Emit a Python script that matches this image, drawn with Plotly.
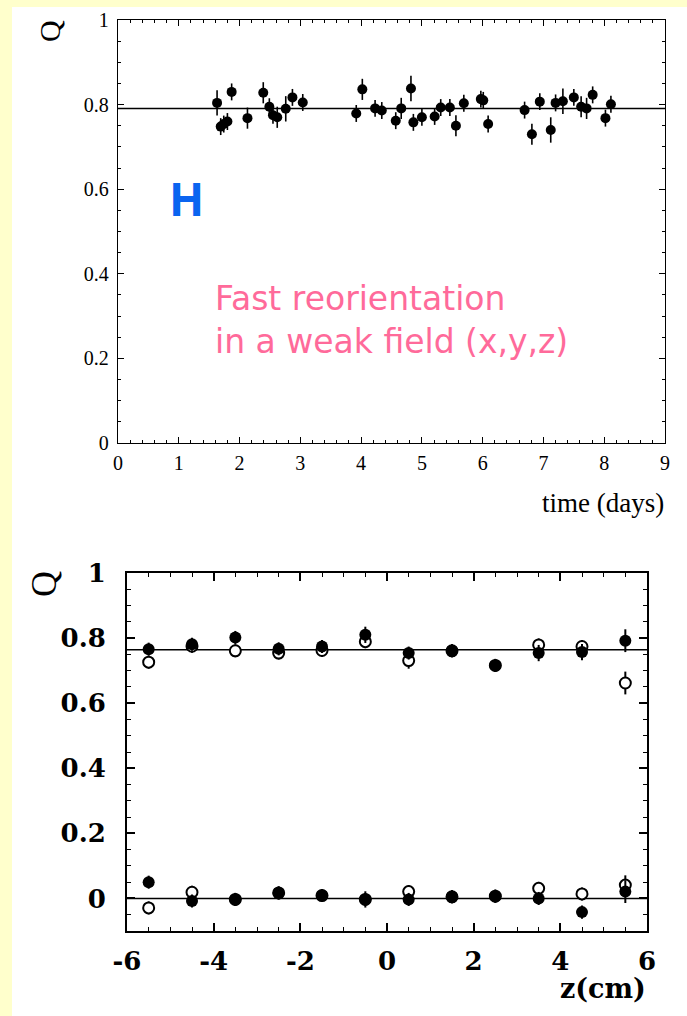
import plotly.graph_objects as go

W, H = 687, 1016

# ---------------- data: top panel (Q vs time) ----------------
days = [1.63, 1.69, 1.74, 1.80, 1.87, 2.13, 2.39, 2.49, 2.55, 2.62, 2.76, 2.87, 3.04,
        3.92, 4.02, 4.23, 4.34, 4.57, 4.66, 4.82, 4.86, 5.00, 5.21, 5.31, 5.46, 5.56,
        5.69, 5.97, 6.01, 6.09, 6.69, 6.81, 6.94, 7.12, 7.20, 7.32, 7.50, 7.62, 7.71,
        7.81, 8.02, 8.11]
q_time = [0.804, 0.748, 0.754, 0.760, 0.830, 0.768, 0.828, 0.795, 0.775, 0.770, 0.790,
          0.817, 0.805, 0.779, 0.836, 0.791, 0.786, 0.762, 0.791, 0.838, 0.758, 0.770,
          0.772, 0.793, 0.793, 0.750, 0.803, 0.813, 0.810, 0.754, 0.787, 0.730, 0.807,
          0.740, 0.804, 0.808, 0.817, 0.795, 0.791, 0.823, 0.768, 0.801]
q_time_err = [0.030, 0.020, 0.020, 0.020, 0.020, 0.025, 0.025, 0.020, 0.020, 0.025,
              0.030, 0.020, 0.020, 0.020, 0.025, 0.020, 0.020, 0.020, 0.025, 0.030,
              0.020, 0.020, 0.020, 0.020, 0.020, 0.025, 0.020, 0.020, 0.020, 0.020,
              0.020, 0.025, 0.020, 0.030, 0.020, 0.030, 0.020, 0.025, 0.025, 0.020,
              0.020, 0.020]
fit_time = 0.791
time_range = [0, 9]

# ---------------- data: bottom panel (Q vs z) ----------------
z_pos = [-5.5, -4.5, -3.5, -2.5, -1.5, -0.5, 0.5, 1.5, 2.5, 3.5, 4.5, 5.5]
filled_upper = [0.766, 0.781, 0.802, 0.767, 0.774, 0.810, 0.754, 0.761, 0.716, 0.754, 0.757, 0.792]
open_upper = [0.726, 0.775, 0.761, 0.754, 0.762, 0.789, 0.731, 0.761, 0.716, 0.779, 0.774, 0.662]
filled_lower = [0.050, -0.008, -0.003, 0.017, 0.009, -0.003, -0.003, 0.005, 0.007, 0.000, -0.042, 0.021]
open_lower = [-0.029, 0.019, -0.003, 0.017, 0.009, -0.003, 0.021, 0.005, 0.007, 0.031, 0.014, 0.041]
err_filled_upper = [0.02, 0.02, 0.02, 0.02, 0.02, 0.025, 0.02, 0.02, 0.02, 0.025, 0.025, 0.035]
err_open_upper = [0.02, 0.02, 0.02, 0.02, 0.02, 0.02, 0.025, 0.02, 0.02, 0.02, 0.02, 0.035]
err_filled_lower = [0.02, 0.02, 0.02, 0.02, 0.02, 0.025, 0.02, 0.02, 0.02, 0.02, 0.02, 0.035]
err_open_lower = [0.02, 0.02, 0.02, 0.02, 0.02, 0.02, 0.02, 0.02, 0.02, 0.02, 0.02, 0.03]
fit_upper = 0.764
fit_lower = 0.0
z_range = [-6, 6]
z_ticks = [-6, -4, -2, 0, 2, 4, 6]
z_tick_labels = ["-6", "-4", "-2", "0", "2", "4", "6"]


def px(x):
    return x / W


def py(y):
    return 1 - y / H


fig = go.Figure()

# top panel
fig.add_trace(go.Scatter(x=time_range, y=[fit_time, fit_time], mode="lines",
                         line=dict(color="black", width=1.5), xaxis="x", yaxis="y",
                         showlegend=False, hoverinfo="skip"))
fig.add_trace(go.Scatter(x=days, y=q_time, mode="markers", xaxis="x", yaxis="y",
                         marker=dict(color="black", size=10),
                         error_y=dict(type="data", array=q_time_err, width=0,
                                      thickness=1.6, color="black"),
                         showlegend=False))

# bottom panel
for fv in (fit_upper, fit_lower):
    fig.add_trace(go.Scatter(x=z_range, y=[fv, fv], mode="lines",
                             line=dict(color="black", width=1.5), xaxis="x2", yaxis="y2",
                             showlegend=False, hoverinfo="skip"))
for vals, errs in ((open_upper, err_open_upper), (open_lower, err_open_lower)):
    fig.add_trace(go.Scatter(x=z_pos, y=vals, mode="markers", xaxis="x2", yaxis="y2",
                             marker=dict(color="white", size=11,
                                         line=dict(color="black", width=2)),
                             error_y=dict(type="data", array=errs, width=0,
                                          thickness=2, color="black"),
                             showlegend=False))
for vals, errs in ((filled_upper, err_filled_upper), (filled_lower, err_filled_lower)):
    fig.add_trace(go.Scatter(x=z_pos, y=vals, mode="markers", xaxis="x2", yaxis="y2",
                             marker=dict(color="black", size=12),
                             error_y=dict(type="data", array=errs, width=0,
                                          thickness=2, color="black"),
                             showlegend=False))

top_font = dict(family="Liberation Serif", size=20, color="black")
bot_font = dict(family="DejaVu Serif", size=26, color="black", weight="bold")

common = dict(showgrid=False, zeroline=False, showline=True, linecolor="black",
              mirror="allticks", ticks="inside", tickcolor="black", automargin=False)

fig.update_layout(
    width=W, height=H,
    margin=dict(l=0, r=0, t=0, b=0, autoexpand=False),
    paper_bgcolor="#FFFFCC",
    plot_bgcolor="white",
    xaxis=dict(domain=[px(118), px(665)], range=time_range, anchor="y",
               dtick=1, tick0=0, ticklen=6, linewidth=1.3, tickwidth=1.3,
               tickfont=top_font, ticklabelstandoff=2,
               minor=dict(dtick=0.2, tick0=0, ticklen=3, ticks="inside",
                          tickcolor="black", tickwidth=1.2),
               **common),
    yaxis=dict(domain=[py(443), py(20)], range=[0, 1], anchor="x",
               dtick=0.2, tick0=0, ticklen=6, linewidth=1.3, tickwidth=1.3,
               tickfont=top_font, tickformat="~g", ticklabelstandoff=4,
               minor=dict(dtick=0.05, tick0=0, ticklen=3, ticks="inside",
                          tickcolor="black", tickwidth=1.2),
               **common),
    xaxis2=dict(domain=[px(127), px(647)], range=z_range, anchor="y2",
                tickmode="array", tickvals=z_ticks, ticktext=z_tick_labels,
                ticklen=8, linewidth=2, tickwidth=1.6,
                tickfont=bot_font, ticklabelstandoff=6,
                minor=dict(dtick=0.5, tick0=0, ticklen=4, ticks="inside",
                           tickcolor="black", tickwidth=1.4),
                **common),
    yaxis2=dict(domain=[py(931), py(573)], range=[-0.1, 1.0], anchor="x2",
                dtick=0.2, tick0=0, ticklen=8, linewidth=2, tickwidth=1.6,
                tickfont=bot_font, tickformat="~g", ticklabelstandoff=14,
                minor=dict(dtick=0.05, tick0=0, ticklen=4, ticks="inside",
                           tickcolor="black", tickwidth=1.4),
                **common),
    shapes=[dict(type="rect", xref="paper", yref="paper", x0=px(12), x1=1,
                 y0=0, y1=py(7), fillcolor="white", line=dict(width=0),
                 layer="below")],
    annotations=[
        dict(text="Q", xref="paper", yref="paper", x=px(50), y=py(31),
             showarrow=False, textangle=-90, xanchor="center", yanchor="middle",
             font=dict(family="Liberation Serif", size=30, color="black")),
        dict(text="Q", xref="paper", yref="paper", x=px(44), y=py(584),
             showarrow=False, textangle=-90, xanchor="center", yanchor="middle",
             font=dict(family="Liberation Serif", size=36, color="black")),
        dict(text="time (days)", xref="paper", yref="paper", x=px(666), y=py(503),
             showarrow=False, xanchor="right", yanchor="middle",
             font=dict(family="Liberation Serif", size=27, color="black")),
        dict(text="z(cm)", xref="paper", yref="paper", x=px(648), y=py(988),
             showarrow=False, xanchor="right", yanchor="middle",
             font=dict(family="DejaVu Serif", size=27, color="black", weight="bold")),
        dict(text="H", xref="paper", yref="paper", x=px(186), y=py(198),
             showarrow=False, xanchor="center", yanchor="middle",
             font=dict(family="Noto Sans", size=46, color="#0A64F0", weight="bold")),
        dict(text="Fast reorientation<br>in a weak field (x,y,z)", xref="paper", yref="paper",
             x=px(213), y=py(320), showarrow=False, xanchor="left", yanchor="middle",
             align="left",
             font=dict(family="DejaVu Sans", size=33, color="#FF6A9A")),
    ],
)

fig.write_html("out.html",
               config={"displayModeBar": False},
               post_script="document.body.style.margin='0';document.body.style.padding='0';")
